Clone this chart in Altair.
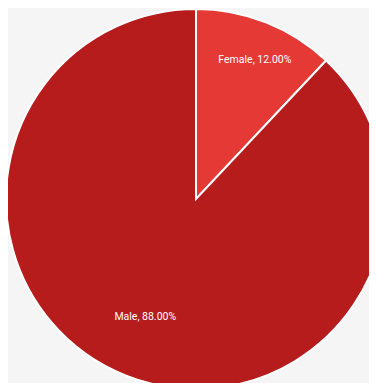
import altair as alt
import pandas as pd

labels = ["Female", "Male"]
values = [12.0, 88.0]
colors = ["#e53935", "#b71c1c"]

df = pd.DataFrame({"label": labels, "value": values, "order": [0, 1]})

W, H = 361, 375
cx, cy, R = 188, 191, 190

base = alt.Chart(df).transform_calculate(
    txt="datum.label + ', ' + format(datum.value, '.2f') + '%'"
)

theta = alt.Theta("value:Q", stack=True)
order = alt.Order("order:Q")

pie = base.mark_arc(
    outerRadius=R, stroke="white", strokeWidth=2, x=cx, y=cy
).encode(
    theta=theta,
    order=order,
    color=alt.Color("label:N", scale=alt.Scale(domain=labels, range=colors), legend=None),
)

font = "Roboto"

t_f = base.mark_text(
    radius=149, x=cx, y=cy, dx=4, color="white", fontSize=10.5, font=font
).encode(theta=theta, order=order, text="txt:N",
         opacity=alt.condition("datum.label == 'Female'", alt.value(1), alt.value(0)))

t_m = base.mark_text(
    radius=127, x=cx, y=cy, dx=-4, color="white", fontSize=10.5, font=font
).encode(theta=theta, order=order, text="txt:N",
         opacity=alt.condition("datum.label == 'Male'", alt.value(1), alt.value(0)))

chart = alt.layer(pie, t_f, t_m).properties(
    width=W, height=H, autosize=alt.AutoSizeParams(type="none"), padding=0,
    background="#f5f5f5",
).configure_view(stroke=None)

chart.save("out.html", embed_options={"renderer": "svg", "actions": False})
